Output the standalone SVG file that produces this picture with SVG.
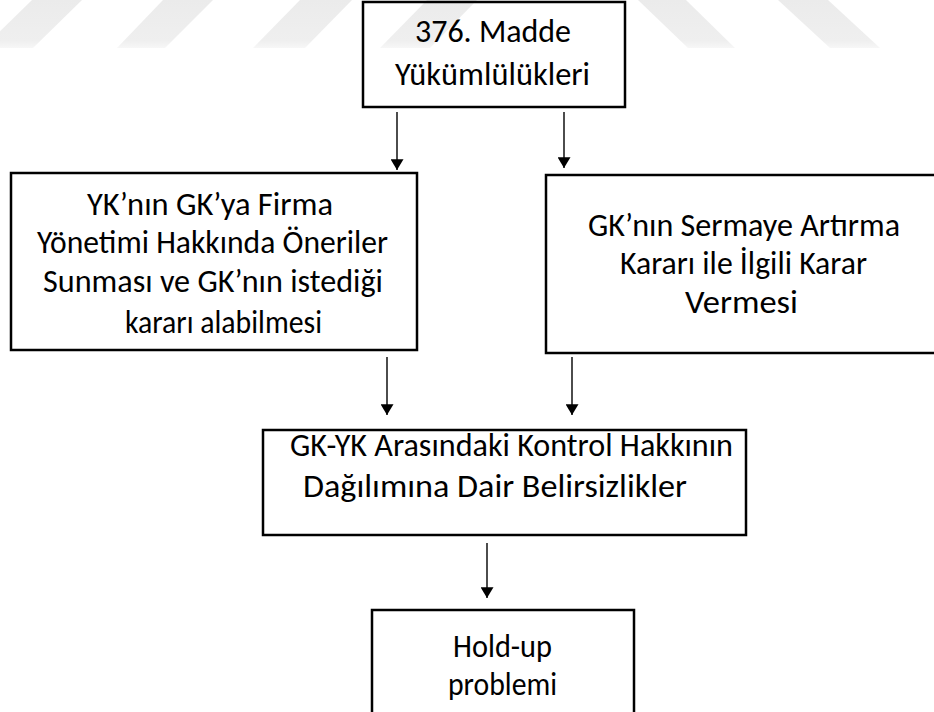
<svg xmlns="http://www.w3.org/2000/svg" width="934" height="712" viewBox="0 0 934 712">
<style>
.box{fill:none;stroke:#000;stroke-width:2.5}
.t{font-family:Carlito,Lato,"Open Sans","Liberation Sans",sans-serif;font-size:32px;fill:#000;text-anchor:start}
.c{stroke:#000;stroke-width:1.4;fill:none}
.wm{fill:url(#wmg)}
</style>
<defs>
<linearGradient id="wmg" x1="0" y1="0" x2="0" y2="1">
<stop offset="0" stop-color="#ebebeb"/>
<stop offset="0.85" stop-color="#efefef"/>
<stop offset="1" stop-color="#f7f7f7"/>
</linearGradient>
<marker id="ah" viewBox="0 0 10 12" refX="10" refY="6" markerWidth="15" markerHeight="13" markerUnits="userSpaceOnUse" orient="auto">
<path d="M0,0 L10,6 L0,12 Z" fill="#000"/>
</marker>
</defs>
<rect width="934" height="712" fill="#fff"/>
<g id="watermark">
<polygon class="wm" points="32,0 82,0 33,48 -17,48"/>
<polygon class="wm" points="163,0 213,0 165,48 117,48"/>
<polygon class="wm" points="300,0 352,0 305,48 253,48"/>
<polygon class="wm" points="427,0 477,0 430,48 380,48"/>
<polygon class="wm" points="638,0 686,0 735,48 688,48"/>
<polygon class="wm" points="778,0 828,0 880,48 830,48"/>
</g>
<g id="connectors">
<line class="c" x1="397" y1="112" x2="397" y2="170" marker-end="url(#ah)"/>
<line class="c" x1="564" y1="112" x2="564" y2="168" marker-end="url(#ah)"/>
<line class="c" x1="387" y1="357" x2="387" y2="415" marker-end="url(#ah)"/>
<line class="c" x1="572" y1="357" x2="572" y2="415" marker-end="url(#ah)"/>
<line class="c" x1="487" y1="543" x2="487" y2="598" marker-end="url(#ah)"/>
</g>
<g id="n1">
<rect class="box" x="363" y="2" width="262" height="105"/>
<text class="t" x="415" y="42" textLength="156" lengthAdjust="spacingAndGlyphs">376. Madde</text>
<text class="t" x="395" y="85" textLength="195" lengthAdjust="spacingAndGlyphs">Yükümlülükleri</text>
</g>
<g id="n2">
<rect class="box" x="11" y="173" width="406" height="177"/>
<text class="t" x="87" y="215" textLength="246" lengthAdjust="spacingAndGlyphs">YK’nın GK’ya Firma</text>
<text class="t" x="37" y="253" textLength="351" lengthAdjust="spacingAndGlyphs">Yönetimi Hakkında Öneriler</text>
<text class="t" x="43" y="292" textLength="340" lengthAdjust="spacingAndGlyphs">Sunması ve GK’nın istediği</text>
<text class="t" x="125" y="333" textLength="197" lengthAdjust="spacingAndGlyphs">kararı alabilmesi</text>
</g>
<g id="n3">
<rect class="box" x="546" y="175" width="400" height="178"/>
<text class="t" x="588" y="236" textLength="312" lengthAdjust="spacingAndGlyphs">GK’nın Sermaye Artırma</text>
<text class="t" x="620" y="274" textLength="247" lengthAdjust="spacingAndGlyphs">Kararı ile İlgili Karar</text>
<text class="t" x="685" y="313" textLength="113" lengthAdjust="spacingAndGlyphs">Vermesi</text>
</g>
<g id="n4">
<rect class="box" x="263" y="430" width="483" height="105"/>
<text class="t" x="290" y="456" textLength="443" lengthAdjust="spacingAndGlyphs">GK-YK Arasındaki Kontrol Hakkının</text>
<text class="t" x="303" y="497" textLength="384" lengthAdjust="spacingAndGlyphs">Dağılımına Dair Belirsizlikler</text>
</g>
<g id="n5">
<rect class="box" x="372" y="610" width="262" height="120"/>
<text class="t" x="453" y="657" textLength="99" lengthAdjust="spacingAndGlyphs">Hold-up</text>
<text class="t" x="448" y="695" textLength="109" lengthAdjust="spacingAndGlyphs">problemi</text>
</g>
</svg>
